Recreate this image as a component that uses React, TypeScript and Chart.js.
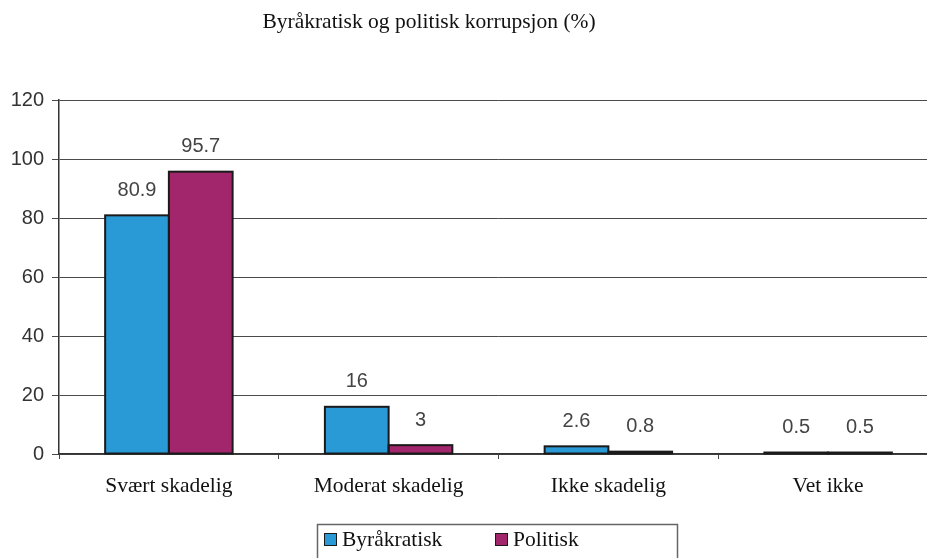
import React, { useEffect, useRef } from "react";
import { Chart, registerables } from "chart.js";

Chart.register(...registerables);

const categories = ["Svært skadelig", "Moderat skadelig", "Ikke skadelig", "Vet ikke"];
const byrakratisk = [80.9, 16, 2.6, 0.5];
const politisk = [95.7, 3, 0.8, 0.5];
const seriesNames = ["Byråkratisk", "Politisk"];
const seriesColors = ["#2a9ad6", "#a2266b"];
const yTicks = [0, 20, 40, 60, 80, 100, 120];
const titleText = "Byråkratisk og politisk korrupsjon (%)";

const SERIF = "'Liberation Serif', 'DejaVu Serif', serif";
const SANS = "'Liberation Sans', Arial, sans-serif";

const titlePlugin = {
  id: "pageTitle",
  afterDraw(chart: any) {
    const ctx = chart.ctx;
    ctx.save();
    ctx.font = `21.5px ${SERIF}`;
    ctx.fillStyle = "#111";
    ctx.textAlign = "center";
    ctx.textBaseline = "middle";
    ctx.fillText(titleText, 429, 22);
    ctx.restore();
  },
};

// Outline each bar with a stroke centred on its edges, so thin bars read as dark lines
const barOutlinePlugin = {
  id: "barOutline",
  afterDatasetsDraw(chart: any) {
    const ctx = chart.ctx;
    ctx.save();
    ctx.strokeStyle = "#1a1a1a";
    ctx.lineWidth = 2;
    chart.data.datasets.forEach((_ds: any, di: number) => {
      const meta = chart.getDatasetMeta(di);
      meta.data.forEach((bar: any) => {
        const left = bar.x - bar.width / 2;
        const top = Math.min(bar.y, bar.base);
        const h = Math.abs(bar.base - bar.y);
        ctx.strokeRect(left, top, bar.width, h);
      });
    });
    ctx.restore();
  },
};

const valueLabelPlugin = {
  id: "valueLabels",
  afterDatasetsDraw(chart: any) {
    const ctx = chart.ctx;
    ctx.save();
    ctx.font = `20px ${SANS}`;
    ctx.fillStyle = "#444";
    ctx.textAlign = "center";
    ctx.textBaseline = "middle";
    chart.data.datasets.forEach((ds: any, di: number) => {
      const meta = chart.getDatasetMeta(di);
      meta.data.forEach((bar: any, i: number) => {
        ctx.fillText(String(ds.data[i]), bar.x, bar.y - 25);
      });
    });
    ctx.restore();
  },
};

const legendPlugin = {
  id: "boxLegend",
  afterDraw(chart: any) {
    const ctx = chart.ctx;
    ctx.save();
    ctx.strokeStyle = "#666";
    ctx.lineWidth = 1.5;
    ctx.strokeRect(317.5, 524.5, 360, 60);
    const items = [
      { x: 324, label: seriesNames[0], color: seriesColors[0] },
      { x: 495, label: seriesNames[1], color: seriesColors[1] },
    ];
    ctx.font = `21.5px ${SERIF}`;
    ctx.textBaseline = "middle";
    ctx.textAlign = "left";
    items.forEach((it) => {
      ctx.fillStyle = it.color;
      ctx.fillRect(it.x, 533, 12, 12);
      ctx.strokeStyle = "#1a1a1a";
      ctx.lineWidth = 1;
      ctx.strokeRect(it.x + 0.5, 533.5, 12, 12);
      ctx.fillStyle = "#111";
      ctx.fillText(it.label, it.x + 18, 540);
    });
    ctx.restore();
  },
};

export default function App() {
  const canvasRef = useRef<HTMLCanvasElement | null>(null);

  useEffect(() => {
    if (!canvasRef.current) return;
    const chart = new Chart(canvasRef.current, {
      type: "bar",
      data: {
        labels: categories,
        datasets: [
          {
            label: seriesNames[0],
            data: byrakratisk,
            backgroundColor: seriesColors[0],
            borderWidth: 0,
            categoryPercentage: 0.58,
            barPercentage: 1,
          },
          {
            label: seriesNames[1],
            data: politisk,
            backgroundColor: seriesColors[1],
            borderWidth: 0,
            categoryPercentage: 0.58,
            barPercentage: 1,
          },
        ],
      },
      options: {
        responsive: false,
        animation: false,
        devicePixelRatio: 1,
        layout: { padding: { left: 0, top: 100, right: 2, bottom: 0 } },
        plugins: {
          legend: { display: false },
          title: { display: false },
          tooltip: { enabled: false },
        },
        scales: {
          x: {
            grid: {
              offset: true,
              drawOnChartArea: false,
              drawTicks: true,
              tickLength: 5,
              color: "#444",
            },
            border: { color: "#333", width: 1.5 },
            ticks: {
              font: { family: SERIF, size: 21.5 },
              color: "#111",
              padding: 14,
            },
            afterFit(scale: any) {
              scale.height = 104;
            },
          },
          y: {
            min: 0,
            max: 120,
            afterBuildTicks(scale: any) {
              scale.ticks = yTicks.map((v) => ({ value: v }));
            },
            grid: {
              color: "#4a4a4a",
              lineWidth: 1,
              drawTicks: true,
              tickLength: 7,
            },
            border: { color: "#333", width: 1.5 },
            ticks: {
              font: { family: SANS, size: 20 },
              color: "#333",
              padding: 8,
            },
            afterFit(scale: any) {
              scale.width = 59;
            },
          },
        },
      },
      plugins: [titlePlugin, barOutlinePlugin, valueLabelPlugin, legendPlugin],
    });
    return () => chart.destroy();
  }, []);

  return (
    <div
      style={{
        position: "absolute",
        left: 0,
        top: 0,
        width: 927,
        height: 558,
        overflow: "hidden",
        background: "#fff",
      }}
    >
      <canvas ref={canvasRef} width={940} height={558} style={{ display: "block" }} />
    </div>
  );
}
